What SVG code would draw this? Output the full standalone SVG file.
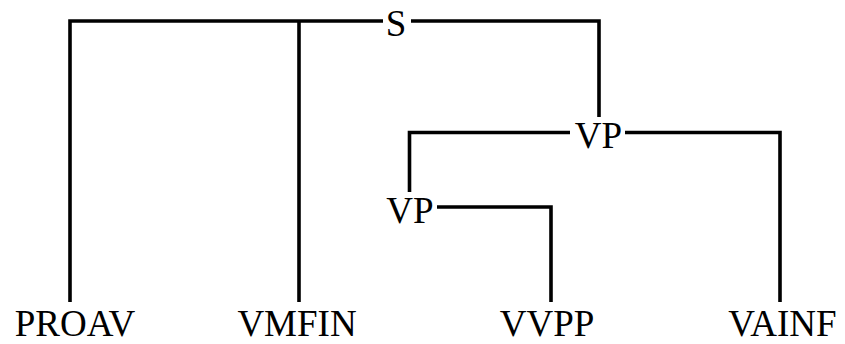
<svg xmlns="http://www.w3.org/2000/svg" width="845" height="344" viewBox="0 0 845 344">
<style>
.lbl{font-family:"Liberation Serif","Times New Roman",serif;font-size:37px;fill:#000;text-anchor:middle}
.edge{fill:none;stroke:#000;stroke-width:3.6;stroke-linecap:butt;stroke-linejoin:miter}
</style>
<rect width="845" height="344" fill="#fff"/>
<g id="connectors">
<path class="edge" d="M383,21 H70 V302"/>
<path class="edge" d="M299,21 V302"/>
<path class="edge" d="M411,21 H599 V117"/>
<path class="edge" d="M570,132.5 H409.5 V192"/>
<path class="edge" d="M625,132.5 H780 V302"/>
<path class="edge" d="M437,207 H551 V302"/>
</g>
<g id="node-S"><text class="lbl" x="396" y="36">S</text></g>
<g id="node-VP1"><text class="lbl" x="598.5" y="148">VP</text></g>
<g id="node-VP2"><text class="lbl" x="410" y="223">VP</text></g>
<g id="node-PROAV"><text class="lbl" x="75" y="336">PROAV</text></g>
<g id="node-VMFIN"><text class="lbl" x="297" y="336">VMFIN</text></g>
<g id="node-VVPP"><text class="lbl" x="547" y="336">VVPP</text></g>
<g id="node-VAINF"><text class="lbl" x="782.5" y="336">VAINF</text></g>
</svg>
